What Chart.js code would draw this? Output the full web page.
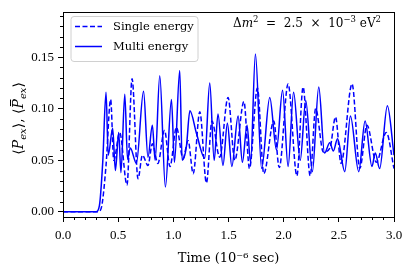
<!DOCTYPE html>
<html><head><meta charset="utf-8">
<script src="https://cdn.jsdelivr.net/npm/chart.js"></script>
<style>html,body{margin:0;padding:0;background:#fff}</style>
</head><body>
<canvas id="c" width="413" height="275"></canvas>
<script>
// ---- data ----
const singleT = [0, 0.32, 0.35, 0.39, 0.432, 0.46, 0.514, 0.58, 0.626, 0.68, 0.72, 0.77, 0.81, 0.86, 0.92, 0.97, 1.028, 1.088, 1.134, 1.18, 1.24, 1.30, 1.35, 1.42, 1.496, 1.557, 1.64, 1.69, 1.762, 1.82, 1.91, 1.96, 2.04, 2.12, 2.176, 2.24, 2.29, 2.36, 2.42, 2.47, 2.52, 2.62, 2.69, 2.755, 2.84, 2.93, 3.0];
const singleV = [0, 0, 0.005, 0.045, 0.109, 0.050, 0.077, 0.026, 0.129, 0.032, 0.055, 0.045, 0.066, 0.047, 0.079, 0.044, 0.082, 0.052, 0.069, 0.037, 0.097, 0.028, 0.088, 0.053, 0.111, 0.050, 0.107, 0.042, 0.120, 0.037, 0.088, 0.043, 0.124, 0.035, 0.121, 0.035, 0.100, 0.058, 0.062, 0.092, 0.047, 0.124, 0.042, 0.084, 0.048, 0.077, 0.042];
const multiT = [0, 0.30, 0.33, 0.36, 0.39, 0.41, 0.45, 0.475, 0.505, 0.525, 0.56, 0.585, 0.61, 0.665, 0.73, 0.77, 0.81, 0.835, 0.877, 0.928, 0.983, 1.01, 1.058, 1.08, 1.118, 1.15, 1.21, 1.285, 1.33, 1.37, 1.405, 1.45, 1.49, 1.53, 1.587, 1.626, 1.668, 1.70, 1.744, 1.80, 1.874, 1.935, 1.99, 2.04, 2.09, 2.15, 2.2, 2.26, 2.318, 2.37, 2.418, 2.45, 2.488, 2.554, 2.605, 2.68, 2.738, 2.8, 2.83, 2.87, 2.94, 3.0];
const multiV = [0, 0, 0.006, 0.048, 0.116, 0.055, 0.081, 0.040, 0.077, 0.038, 0.114, 0.051, 0.062, 0.047, 0.117, 0.053, 0.084, 0.050, 0.132, 0.024, 0.109, 0.048, 0.137, 0.050, 0.063, 0.098, 0.076, 0.052, 0.125, 0.050, 0.095, 0.045, 0.086, 0.044, 0.093, 0.048, 0.084, 0.048, 0.153, 0.042, 0.111, 0.060, 0.118, 0.044, 0.116, 0.050, 0.108, 0.039, 0.121, 0.057, 0.067, 0.059, 0.071, 0.039, 0.093, 0.039, 0.088, 0.044, 0.057, 0.042, 0.103, 0.055];
const xTickValues = [0, 0.5, 1.0, 1.5, 2.0, 2.5, 3.0];
const yTickValues = [0, 0.05, 0.10, 0.15];
const xMinorTickValues = [0.1,0.2,0.3,0.4,0.6,0.7,0.8,0.9,1.1,1.2,1.3,1.4,1.6,1.7,1.8,1.9,2.1,2.2,2.3,2.4,2.6,2.7,2.8,2.9];
const yMinorTickValues = [0.01,0.02,0.03,0.04,0.06,0.07,0.08,0.09,0.11,0.12,0.13,0.14,0.16,0.17,0.18,0.19];
const seriesLabels = ['Single energy', 'Multi energy'];
const xTitle = 'Time (10\u207B\u2076 sec)';

const BLUE = '#0000ff';
const SERIF = '"Liberation Serif", serif';
const WSERIF = '"DejaVu Serif", "DejaVu Sans", serif';

function pts(t, v) { return t.map((x, i) => ({x: x, y: v[i]})); }

// draws a run of [text, font, dy, macron] pieces starting at x
function drawRun(ctx, parts, x, y) {
  parts.forEach(([s, f, dy, bar]) => {
    ctx.font = f;
    const w = ctx.measureText(s).width;
    ctx.fillText(s, x, y + (dy || 0));
    if (bar) {
      ctx.fillRect(x + w * 0.25, y - 13, w * 0.7, 1);
    }
    x += w;
  });
  return x;
}
function runWidth(ctx, parts) {
  let w = 0;
  parts.forEach(([s, f]) => { ctx.font = f; w += ctx.measureText(s).width; });
  return w;
}

const framePlugin = {
  id: 'frame',
  afterDraw(chart) {
    const {ctx, chartArea: a, scales} = chart;
    ctx.save();
    ctx.strokeStyle = '#000';
    ctx.lineWidth = 1;
    // minor ticks
    ctx.beginPath();
    xMinorTickValues.forEach(v => {
      const px = Math.round(scales.x.getPixelForValue(v)) + 0.5;
      ctx.moveTo(px, a.bottom); ctx.lineTo(px, a.bottom + 3);
    });
    yMinorTickValues.forEach(v => {
      const py = Math.round(scales.y.getPixelForValue(v)) + 0.5;
      ctx.moveTo(a.left, py); ctx.lineTo(a.left - 3, py);
    });
    ctx.stroke();
    // frame
    ctx.strokeRect(Math.round(a.left) + 0.5, Math.round(a.top) + 0.5, Math.round(a.right - a.left), Math.round(a.bottom - a.top));

    // legend box
    const bx = 71, by = 16.5, bw = 127, bh = 45, r = 3;
    ctx.beginPath();
    ctx.moveTo(bx + r, by);
    ctx.arcTo(bx + bw, by, bx + bw, by + bh, r);
    ctx.arcTo(bx + bw, by + bh, bx, by + bh, r);
    ctx.arcTo(bx, by + bh, bx, by, r);
    ctx.arcTo(bx, by, bx + bw, by, r);
    ctx.closePath();
    ctx.fillStyle = 'rgba(255,255,255,0.85)';
    ctx.fill();
    ctx.strokeStyle = '#d0d0d0';
    ctx.stroke();
    // legend entries
    const rows = [26.5, 46.5];
    ctx.strokeStyle = BLUE;
    ctx.lineWidth = 1.5;
    chart.data.datasets.forEach((ds, i) => {
      ctx.setLineDash(ds.borderDash || []);
      ctx.beginPath();
      ctx.moveTo(75, rows[i]); ctx.lineTo(102, rows[i]);
      ctx.stroke();
      ctx.setLineDash([]);
      ctx.fillStyle = '#000';
      ctx.font = '11.5px ' + WSERIF;
      ctx.textBaseline = 'middle';
      ctx.textAlign = 'left';
      ctx.fillText(ds.label, 113, rows[i] + 0.5);
    });
    // annotation
    ctx.fillStyle = '#000';
    ctx.textBaseline = 'alphabetic';
    const n = '12px ' + WSERIF, it = 'italic 12px ' + WSERIF, sm = '8.5px ' + WSERIF;
    drawRun(ctx, [['\u0394', n], ['m', it], ['2', sm, -5.5], ['  =  2.5  \u00D7  10', n], ['\u22123', sm, -5.5], [' eV', n], ['2', sm, -5.5]], 233, 27);

    // y title (rotated)
    ctx.translate(18, (a.top + a.bottom) / 2 + 4);
    ctx.rotate(-Math.PI / 2);
    const f = '14px ' + WSERIF, fi = 'italic 14px ' + WSERIF, fs = 'italic 10px ' + WSERIF;
    const yParts = [['\u27E8', f], ['P', fi], ['ex', fs, 3], ['\u27E9, \u27E8', f], ['P', fi, 0, true], ['ex', fs, 3], ['\u27E9', f]];
    const w = runWidth(ctx, yParts);
    drawRun(ctx, yParts, -w / 2, 5);
    ctx.restore();
  }
};

new Chart(document.getElementById('c'), {
  type: 'line',
  data: {
    datasets: [
      {label: seriesLabels[0], data: pts(singleT, singleV), borderColor: BLUE, borderWidth: 1.5, borderDash: [5, 2.5], pointRadius: 0, cubicInterpolationMode: 'monotone', fill: false},
      {label: seriesLabels[1], data: pts(multiT, multiV), borderColor: BLUE, borderWidth: 1.5, pointRadius: 0, cubicInterpolationMode: 'monotone', fill: false}
    ]
  },
  options: {
    responsive: false,
    animation: false,
    devicePixelRatio: 1,
    layout: {padding: {top: 11, right: 19, left: 0, bottom: 0}},
    plugins: {legend: {display: false}, tooltip: {enabled: false}},
    scales: {
      x: {
        type: 'linear', min: 0, max: 3,
        afterBuildTicks: s => { s.ticks = xTickValues.map(v => ({value: v})); },
        afterFit: s => { s.height = 58; },
        ticks: {callback: v => Number(v).toFixed(1), color: '#000', font: {family: SERIF, size: 13}, padding: 6, maxRotation: 0, autoSkip: false},
        grid: {drawOnChartArea: false, drawTicks: true, tickLength: 5, color: '#000', lineWidth: 1},
        border: {display: false},
        title: {display: true, text: xTitle, color: '#000', font: {family: WSERIF, size: 13}, padding: {top: 0, bottom: 9}}
      },
      y: {
        type: 'linear', min: -0.005, max: 0.194,
        afterBuildTicks: s => { s.ticks = yTickValues.map(v => ({value: v})); },
        afterFit: s => { s.width = 63; },
        ticks: {callback: v => Number(v).toFixed(2), color: '#000', font: {family: SERIF, size: 13}, padding: 4, autoSkip: false},
        grid: {drawOnChartArea: false, drawTicks: true, tickLength: 5, color: '#000', lineWidth: 1},
        border: {display: false},
        title: {display: false}
      }
    }
  },
  plugins: [framePlugin]
});
</script>
</body></html>
